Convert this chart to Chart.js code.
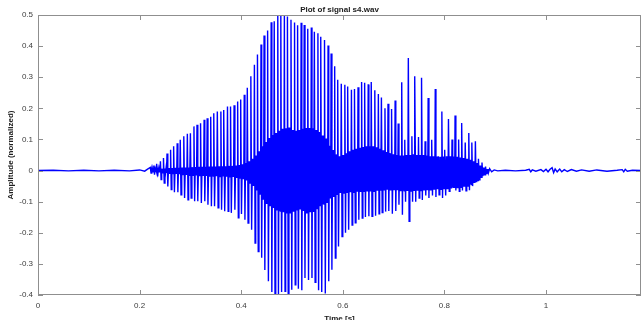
<!DOCTYPE html>
<html>
<head>
<meta charset="utf-8">
<script src="https://cdn.jsdelivr.net/npm/chart.js@4.4.1/dist/chart.umd.min.js"></script>
<style>
  html, body { margin: 0; padding: 0; background: #fff; }
  #wrap { width: 641px; height: 320px; position: relative; }
</style>
</head>
<body>
<div id="wrap"><canvas id="sinal"></canvas></div>
<script>
// Valores (tempo em s, amplitude normalizada)
const titulo = "Plot of signal s4.wav";
const tituloX = "Time [s]";
const tituloY = "Amplitude (normalized)";

const xTicks = [0, 0.2, 0.4, 0.6, 0.8, 1];
const xTickLabels = ["0", "0.2", "0.4", "0.6", "0.8", "1"];
const yTicks = [-0.4, -0.3, -0.2, -0.1, 0, 0.1, 0.2, 0.3, 0.4, 0.5];
const yTickLabels = ["-0.4", "-0.3", "-0.2", "-0.1", "0", "0.1", "0.2", "0.3", "0.4", "0.5"];

// silêncio inicial
const leadTime = [0, 0.03, 0.06, 0.09, 0.12, 0.15, 0.18, 0.2, 0.21, 0.215];
const leadValue = [0, 0.001, -0.001, 0.001, -0.001, 0.001, -0.001, 0.002, -0.002, 0.004];

// um pulso por período glotal
const pulseTime = [
  0.221, 0.228, 0.234, 0.241, 0.247, 0.254, 0.261, 0.267, 0.274, 0.280,
  0.287, 0.294, 0.300, 0.307, 0.313, 0.320, 0.327, 0.333, 0.340, 0.346,
  0.353, 0.360, 0.366, 0.373, 0.379, 0.386, 0.393, 0.399, 0.406, 0.412,
  0.419, 0.426, 0.432, 0.439, 0.445, 0.452, 0.459, 0.465, 0.472, 0.478,
  0.485, 0.491, 0.498, 0.505, 0.511, 0.518, 0.524, 0.531, 0.538, 0.544,
  0.551, 0.557, 0.564, 0.571, 0.577, 0.584, 0.590, 0.597, 0.604, 0.610,
  0.617, 0.623, 0.630, 0.637, 0.643, 0.650, 0.656, 0.663, 0.670, 0.676,
  0.683, 0.689, 0.696, 0.703, 0.709, 0.716, 0.722, 0.729, 0.736, 0.742,
  0.749, 0.755, 0.762, 0.768, 0.775, 0.782, 0.788, 0.795, 0.801, 0.808,
  0.815, 0.821, 0.828, 0.834, 0.841, 0.848, 0.854, 0.861, 0.867, 0.874,
  0.881
];
const pulseHigh = [
  0.01, 0.016, 0.022, 0.03, 0.04, 0.055, 0.067, 0.078, 0.088, 0.099,
  0.11, 0.118, 0.12, 0.142, 0.147, 0.152, 0.163, 0.168, 0.173, 0.184,
  0.19, 0.19, 0.195, 0.206, 0.206, 0.21, 0.222, 0.228, 0.244, 0.266,
  0.303, 0.34, 0.373, 0.405, 0.434, 0.45, 0.477, 0.48, 0.5, 0.5,
  0.5, 0.495, 0.485, 0.476, 0.467, 0.475, 0.468, 0.456, 0.46, 0.446,
  0.441, 0.43, 0.42, 0.402, 0.376, 0.335, 0.292, 0.279, 0.276, 0.27,
  0.26, 0.262, 0.268, 0.285, 0.282, 0.277, 0.285, 0.258, 0.246, 0.235,
  0.2, 0.215, 0.198, 0.225, 0.151, 0.284, 0.099, 0.362, 0.11, 0.303,
  0.108, 0.298, 0.094, 0.233, 0.099, 0.262, 0.046, 0.19, 0.067, 0.166,
  0.1, 0.177, 0.1, 0.153, 0.09, 0.121, 0.09, 0.094, 0.038, 0.026,
  0.013
];
const pulseLow = [
  -0.008, -0.013, -0.019, -0.029, -0.04, -0.051, -0.061, -0.07, -0.07, -0.078,
  -0.088, -0.094, -0.088, -0.099, -0.099, -0.104, -0.099, -0.11, -0.115, -0.115,
  -0.12, -0.126, -0.131, -0.131, -0.136, -0.126, -0.152, -0.14, -0.158, -0.169,
  -0.19, -0.233, -0.26, -0.28, -0.32, -0.356, -0.39, -0.4, -0.4, -0.39,
  -0.388, -0.4, -0.383, -0.367, -0.38, -0.385, -0.345, -0.352, -0.345, -0.359,
  -0.385, -0.39, -0.395, -0.356, -0.319, -0.281, -0.244, -0.212, -0.2, -0.19,
  -0.175, -0.168, -0.158, -0.153, -0.149, -0.147, -0.147, -0.145, -0.139, -0.135,
  -0.132, -0.13, -0.139, -0.13, -0.11, -0.142, -0.1, -0.163, -0.1, -0.1,
  -0.088, -0.095, -0.08, -0.088, -0.08, -0.085, -0.078, -0.088, -0.08, -0.067,
  -0.055, -0.064, -0.067, -0.064, -0.065, -0.063, -0.05, -0.035, -0.03, -0.018,
  -0.01
];
// oscilações menores dentro de cada período
const innerHigh = [
  0.003, 0.004, 0.005, 0.006, 0.007, 0.008, 0.008, 0.009, 0.009, 0.01,
  0.01, 0.01, 0.011, 0.011, 0.012, 0.012, 0.012, 0.013, 0.013, 0.013,
  0.014, 0.014, 0.014, 0.015, 0.015, 0.016, 0.018, 0.02, 0.024, 0.03,
  0.038, 0.048, 0.062, 0.078, 0.092, 0.105, 0.114, 0.121, 0.128, 0.134,
  0.136, 0.138, 0.13, 0.128, 0.13, 0.134, 0.137, 0.137, 0.136, 0.13,
  0.124, 0.113, 0.103, 0.08, 0.066, 0.052, 0.046, 0.05, 0.056, 0.062,
  0.067, 0.07, 0.073, 0.076, 0.078, 0.078, 0.078, 0.075, 0.07, 0.065,
  0.06, 0.056, 0.052, 0.05, 0.048, 0.048, 0.05, 0.05, 0.052, 0.05,
  0.05, 0.05, 0.048, 0.046, 0.046, 0.045, 0.044, 0.045, 0.046, 0.046,
  0.045, 0.044, 0.042, 0.04, 0.038, 0.035, 0.03, 0.024, 0.016, 0.01,
  0.005
];
const innerLow = [
  -0.004, -0.005, -0.006, -0.007, -0.008, -0.009, -0.01, -0.011, -0.012, -0.013,
  -0.014, -0.015, -0.015, -0.016, -0.016, -0.017, -0.017, -0.018, -0.018, -0.018,
  -0.019, -0.019, -0.02, -0.02, -0.021, -0.022, -0.024, -0.028, -0.032, -0.04,
  -0.05, -0.062, -0.078, -0.094, -0.105, -0.115, -0.12, -0.126, -0.13, -0.134,
  -0.136, -0.136, -0.13, -0.126, -0.125, -0.13, -0.136, -0.134, -0.131, -0.122,
  -0.115, -0.108, -0.104, -0.09, -0.083, -0.076, -0.072, -0.072, -0.072, -0.07,
  -0.07, -0.068, -0.067, -0.067, -0.067, -0.067, -0.067, -0.065, -0.063, -0.062,
  -0.062, -0.062, -0.063, -0.063, -0.064, -0.065, -0.066, -0.066, -0.066, -0.065,
  -0.064, -0.064, -0.063, -0.062, -0.062, -0.06, -0.06, -0.06, -0.06, -0.058,
  -0.056, -0.055, -0.054, -0.052, -0.05, -0.045, -0.04, -0.032, -0.022, -0.014,
  -0.007
];

// ruído depois da fala
const tailTime = [
  0.889, 0.893, 0.898, 0.905, 0.92, 0.94, 0.96, 0.967, 0.97, 0.973,
  0.98, 0.99, 0.995, 1.0, 1.004, 1.008, 1.012, 1.015, 1.018, 1.022,
  1.027, 1.031, 1.036, 1.042, 1.05, 1.06, 1.07, 1.085, 1.1, 1.12,
  1.14, 1.15, 1.153, 1.156, 1.16, 1.17, 1.187
];
const tailValue = [
  0.006, -0.004, 0.002, -0.001, 0.001, -0.001, 0.001, 0.004, -0.004, 0.002,
  -0.002, 0.003, -0.003, 0.004, -0.004, 0.004, 0.009, -0.007, 0.005, -0.004,
  0.005, -0.004, 0.003, -0.003, 0.003, -0.002, 0.002, -0.002, 0.002, -0.002,
  0.001, 0.003, -0.004, 0.004, -0.002, 0.001, 0
];

// Montando os pontos da forma de onda
const pontos = [];
leadTime.forEach((t, i) => pontos.push({ x: t, y: leadValue[i] }));
pulseTime.forEach((t, i) => {
  const prox = i + 1 < pulseTime.length ? pulseTime[i + 1] : t + 0.0066;
  const p = prox - t;
  pontos.push({ x: t, y: pulseHigh[i] });
  pontos.push({ x: t + p * 0.22, y: pulseLow[i] });
  pontos.push({ x: t + p * 0.42, y: innerHigh[i] });
  pontos.push({ x: t + p * 0.57, y: innerLow[i] });
  pontos.push({ x: t + p * 0.72, y: innerHigh[i] });
  pontos.push({ x: t + p * 0.86, y: innerLow[i] });
});
tailTime.forEach((t, i) => pontos.push({ x: t, y: tailValue[i] }));

const fonte = "'Liberation Sans', Arial, Helvetica, sans-serif";
const corEixo = "#8f8f8f";
const corTexto = "#3c3c3c";

// Caixa, marcas internas e títulos no estilo MATLAB
const moldura = {
  id: "moldura",
  afterDatasetsDraw(chart) {
    const { ctx, chartArea: a, scales } = chart;
    const sx = scales.x, sy = scales.y;
    const tam = 5;
    ctx.save();
    ctx.strokeStyle = corEixo;
    ctx.lineWidth = 1;
    ctx.strokeRect(a.left + 0.5, a.top + 0.5, a.right - a.left - 1, a.bottom - a.top - 1);
    ctx.beginPath();
    xTicks.forEach(v => {
      const px = Math.round(sx.getPixelForValue(v)) + 0.5;
      ctx.moveTo(px, a.bottom); ctx.lineTo(px, a.bottom - tam);
      ctx.moveTo(px, a.top); ctx.lineTo(px, a.top + tam);
    });
    yTicks.forEach(v => {
      const py = Math.round(sy.getPixelForValue(v)) + 0.5;
      ctx.moveTo(a.left, py); ctx.lineTo(a.left + tam, py);
      ctx.moveTo(a.right, py); ctx.lineTo(a.right - tam, py);
    });
    ctx.stroke();

    ctx.fillStyle = "#202020";
    ctx.font = "bold 8px " + fonte;
    ctx.textAlign = "center";
    ctx.textBaseline = "alphabetic";
    const cx = (a.left + a.right) / 2;
    ctx.fillText(titulo, cx, 12);
    ctx.fillText(tituloX, cx, 321);
    ctx.translate(13, (a.top + a.bottom) / 2);
    ctx.rotate(-Math.PI / 2);
    ctx.fillText(tituloY, 0, 0);
    ctx.restore();
  }
};

const ctx = document.getElementById("sinal").getContext("2d");
new Chart(ctx, {
  type: "line",
  data: {
    datasets: [{
      data: pontos,
      borderColor: "#0000ff",
      borderWidth: 1.4,
      pointRadius: 0,
      tension: 0,
      fill: false
    }]
  },
  options: {
    responsive: true,
    maintainAspectRatio: false,
    animation: false,
    parsing: false,
    normalized: true,
    layout: { padding: { top: 15, right: 0, left: 0, bottom: 0 } },
    plugins: { legend: { display: false }, title: { display: false }, tooltip: { enabled: false } },
    scales: {
      x: {
        type: "linear",
        min: 0,
        max: 1.187,
        afterFit: s => { s.height = 25; },
        afterBuildTicks: s => { s.ticks = xTicks.map(v => ({ value: v })); },
        grid: { display: false, drawTicks: false },
        border: { display: false },
        ticks: {
          padding: 6,
          maxRotation: 0,
          autoSkip: false,
          color: corTexto,
          font: { family: fonte, size: 8 },
          callback: (v, i) => xTickLabels[i]
        }
      },
      y: {
        type: "linear",
        min: -0.4,
        max: 0.5,
        afterFit: s => { s.width = 38; },
        afterBuildTicks: s => { s.ticks = yTicks.map(v => ({ value: v })); },
        grid: { display: false, drawTicks: false },
        border: { display: false },
        ticks: {
          padding: 5,
          autoSkip: false,
          color: corTexto,
          font: { family: fonte, size: 8 },
          callback: (v, i) => yTickLabels[i]
        }
      }
    }
  },
  plugins: [moldura]
});
</script>
</body>
</html>
